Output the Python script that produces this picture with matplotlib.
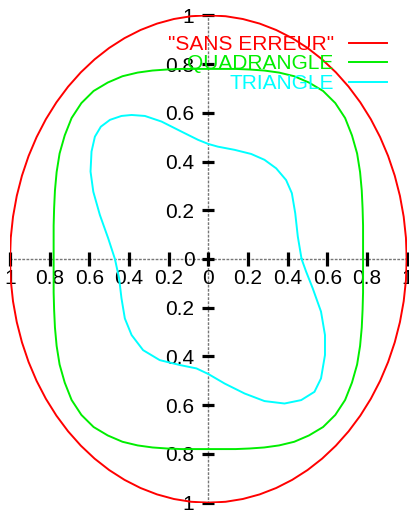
import matplotlib
matplotlib.use("Agg")
import matplotlib.pyplot as plt
import numpy as np

plt.rcParams['font.family'] = ['Liberation Sans', 'DejaVu Sans']

# ---------------- data ----------------
# polar grid (degrees) used by the two symmetric curves
angles_deg = list(range(0, 360, 5))

r_sans_erreur = [1.0, 1.0, 1.0, 1.0, 1.0, 1.0, 1.0, 1.0, 1.0, 1.0, 1.0, 1.0,
                 1.0, 1.0, 1.0, 1.0, 1.0, 1.0, 1.0, 1.0, 1.0, 1.0, 1.0, 1.0,
                 1.0, 1.0, 1.0, 1.0, 1.0, 1.0, 1.0, 1.0, 1.0, 1.0, 1.0, 1.0,
                 1.0, 1.0, 1.0, 1.0, 1.0, 1.0, 1.0, 1.0, 1.0, 1.0, 1.0, 1.0,
                 1.0, 1.0, 1.0, 1.0, 1.0, 1.0, 1.0, 1.0, 1.0, 1.0, 1.0, 1.0,
                 1.0, 1.0, 1.0, 1.0, 1.0, 1.0, 1.0, 1.0, 1.0, 1.0, 1.0, 1.0]

r_quadrangle = [0.780, 0.783, 0.792, 0.805, 0.823, 0.844, 0.866, 0.884, 0.900,
                0.905, 0.900, 0.884, 0.866, 0.844, 0.823, 0.805, 0.792, 0.783,
                0.780, 0.783, 0.792, 0.805, 0.823, 0.844, 0.866, 0.884, 0.900,
                0.905, 0.900, 0.884, 0.866, 0.844, 0.823, 0.805, 0.792, 0.783,
                0.780, 0.783, 0.792, 0.805, 0.823, 0.844, 0.866, 0.884, 0.900,
                0.905, 0.900, 0.884, 0.866, 0.844, 0.823, 0.805, 0.792, 0.783,
                0.780, 0.783, 0.792, 0.805, 0.823, 0.844, 0.866, 0.884, 0.900,
                0.905, 0.900, 0.884, 0.866, 0.844, 0.823, 0.805, 0.792, 0.783]

# triangle curve traced point by point (x, y)
tri_x = [0.470, 0.451, 0.438, 0.421, 0.392, 0.342, 0.283, 0.216, 0.132, 0.048,
         0.000, -0.052, -0.136, -0.236, -0.320, -0.387, -0.438, -0.496, -0.542,
         -0.572, -0.589, -0.594, -0.580, -0.547, -0.505, -0.471, -0.450, -0.438,
         -0.421, -0.387, -0.329, -0.245, -0.144, -0.060, 0.000, 0.082, 0.183,
         0.283, 0.384, 0.468, 0.535, 0.568, 0.588, 0.588, 0.568, 0.526, 0.493,
         0.470]
tri_y = [0.000, 0.092, 0.188, 0.270, 0.324, 0.372, 0.407, 0.431, 0.448, 0.461,
         0.472, 0.489, 0.523, 0.564, 0.587, 0.591, 0.587, 0.571, 0.543,
         0.502, 0.441, 0.359, 0.276, 0.181, 0.085, 0.000, -0.079, -0.161,
         -0.244, -0.312, -0.374, -0.415, -0.435, -0.449, -0.472, -0.511, -0.552,
         -0.583, -0.593, -0.579, -0.545, -0.490, -0.394, -0.312, -0.216, -0.120,
         -0.052, 0.000]

tick_values = [-1.0, -0.8, -0.6, -0.4, -0.2, 0.0, 0.2, 0.4, 0.6, 0.8, 1.0]
tick_labels = ['1', '0.8', '0.6', '0.4', '0.2', '0', '0.2', '0.4', '0.6', '0.8', '1']

labels = ['"SANS ERREUR"', 'QUADRANGLE', 'TRIANGLE']
colors = ['#ff0000', '#00ee00', '#00ffff']

# ---------------- figure ----------------
W, H = 410, 511
FS = 15
fig = plt.figure(figsize=(W / 100, H / 100), dpi=100)
ax = fig.add_axes([10 / W, 8.3 / H, 396.7 / W, 487.4 / H])
ax.set_xlim(-1, 1)
ax.set_ylim(-1, 1)

th = np.deg2rad(np.array(angles_deg + [angles_deg[0]]))
for r, lab, col in [(r_sans_erreur, labels[0], colors[0]),
                    (r_quadrangle, labels[1], colors[1])]:
    rr = np.array(list(r) + [r[0]])
    ax.plot(rr * np.cos(th), rr * np.sin(th), color=col, lw=1.4, label=lab)
ax.plot(tri_x, tri_y, color=colors[2], lw=1.4, label=labels[2])

# axes through the origin, dotted
for side in ['top', 'right']:
    ax.spines[side].set_visible(False)
for side in ['left', 'bottom']:
    ax.spines[side].set_position(('data', 0))
    ax.spines[side].set_linestyle((0, (1, 2)))
    ax.spines[side].set_color('#777777')
    ax.spines[side].set_linewidth(1.0)
    ax.spines[side].set_zorder(0.5)

ax.set_xticks(tick_values, tick_labels)
ax.set_yticks(tick_values, tick_labels)
ax.tick_params(axis='x', direction='inout', length=9.5, width=2.3, pad=2.5,
               labelsize=FS, color='black')
ax.tick_params(axis='y', direction='inout', length=8.5, width=2.3, pad=5.8,
               labelsize=FS, color='black')

leg = ax.legend(loc='upper right', bbox_to_anchor=(387 / W, 1 - 35 / H),
                bbox_transform=fig.transFigure, frameon=False, markerfirst=False,
                handlelength=1.8, handletextpad=0.75, labelspacing=0.02,
                borderpad=0, borderaxespad=0, fontsize=FS,
                labelcolor='linecolor')

fig.savefig('out.png', dpi=100)
